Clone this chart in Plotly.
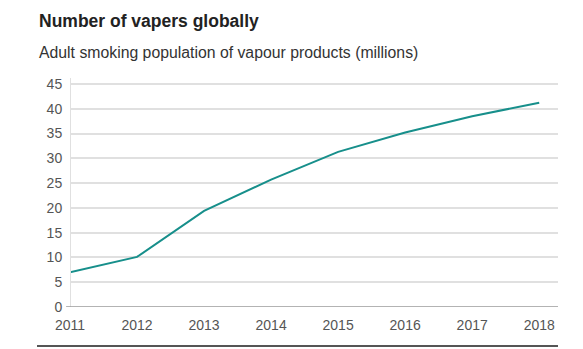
import plotly.graph_objects as go

years = [2011, 2012, 2013, 2014, 2015, 2016, 2017, 2018]
vapers_millions = [7.0, 10.1, 19.4, 25.7, 31.3, 35.2, 38.5, 41.2]
y_ticks = [0, 5, 10, 15, 20, 25, 30, 35, 40, 45]

title_text = "Number of vapers globally"
subtitle_text = "Adult smoking population of vapour products (millions)"

font_family = "Liberation Sans, Arial, sans-serif"

fig = go.Figure()
fig.add_trace(go.Scatter(
    x=years, y=vapers_millions, mode="lines",
    line=dict(color="#178f8b", width=2),
    hoverinfo="x+y",
))

fig.update_layout(
    width=583, height=349,
    margin=dict(l=70, r=25, t=78, b=42),
    paper_bgcolor="white", plot_bgcolor="white",
    showlegend=False,
    font=dict(family=font_family, color="#404040"),
    xaxis=dict(
        range=[2011, 2018.28], tickmode="array", tickvals=years,
        ticktext=[str(y) for y in years],
        showgrid=False, zeroline=False, showline=False,
        ticks="", ticklabelstandoff=8,
        tickfont=dict(size=14, color="#555"),
    ),
    yaxis=dict(
        range=[0, 46.2], tickmode="array", tickvals=y_ticks,
        showgrid=True, gridcolor="#e0e0e0", gridwidth=2,
        zeroline=False, showline=False,
        ticks="outside", ticklen=4, tickcolor="#ffffff",
        tickfont=dict(size=14, color="#555"),
    ),
    shapes=[
        # vertical axis line
        dict(type="line", xref="x", yref="paper", x0=2011, x1=2011, y0=0, y1=1,
             line=dict(color="#e0e0e0", width=2)),
        # baseline at zero
        dict(type="line", xref="paper", yref="y", x0=-0.008, x1=1, y0=0, y1=0,
             line=dict(color="#9a9a9a", width=1.5)),
        # bottom rule
        dict(type="line", xref="paper", yref="paper", x0=-0.0676, x1=1,
             y0=-0.170, y1=-0.170, line=dict(color="#555", width=2)),
    ],
    annotations=[
        dict(text="<b>" + title_text + "</b>", xref="paper", yref="paper",
             x=-0.0676, y=1.249, xanchor="left", yanchor="middle",
             showarrow=False, font=dict(size=17.5, color="#222", family=font_family)),
        dict(text=subtitle_text, xref="paper", yref="paper",
             x=-0.0676, y=1.1135, xanchor="left", yanchor="middle",
             showarrow=False, font=dict(size=15.8, color="#333", family=font_family)),
    ],
)

fig.write_html("out.html")
